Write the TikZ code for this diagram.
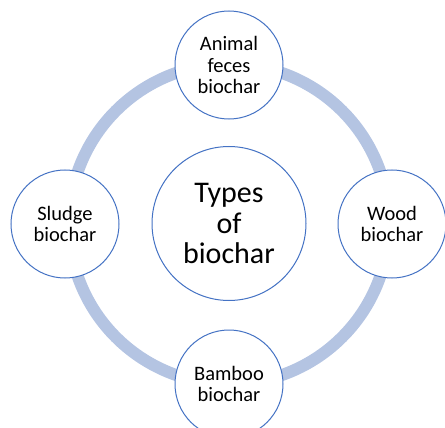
\documentclass[tikz,border=0pt]{standalone}
\usepackage{fontspec}
\setmainfont{Carlito}
\definecolor{ringc}{RGB}{180,196,226}
\definecolor{edgec}{RGB}{68,114,196}
\begin{document}
\begin{tikzpicture}[x=1pt,y=-1pt,
  outer/.style={circle,draw=edgec,line width=1pt,fill=white,minimum size=108pt,inner sep=0pt,align=center,font=\fontsize{20.5}{21.5}\selectfont},
  centre/.style={circle,draw=edgec,line width=1pt,fill=white,minimum size=154pt,inner sep=0pt,align=center,font=\fontsize{30}{30.5}\selectfont}]
\useasboundingbox (0,0) rectangle (445,428);
\clip (0,0) rectangle (445,428);
\coordinate (o) at (229,224);
\draw[ringc,line width=12pt] (o) circle[radius=160];
\node[centre] (c) at (229,223.5) {Types\\of\\biochar};
\node[outer] (t) at (229,65) {Animal\\feces\\biochar};
\node[outer] (l) at (65,224) {Sludge\\biochar};
\node[outer] (r) at (392,224) {Wood\\biochar};
\node[outer] (b) at (229,384) {Bamboo\\biochar};
\end{tikzpicture}
\end{document}
